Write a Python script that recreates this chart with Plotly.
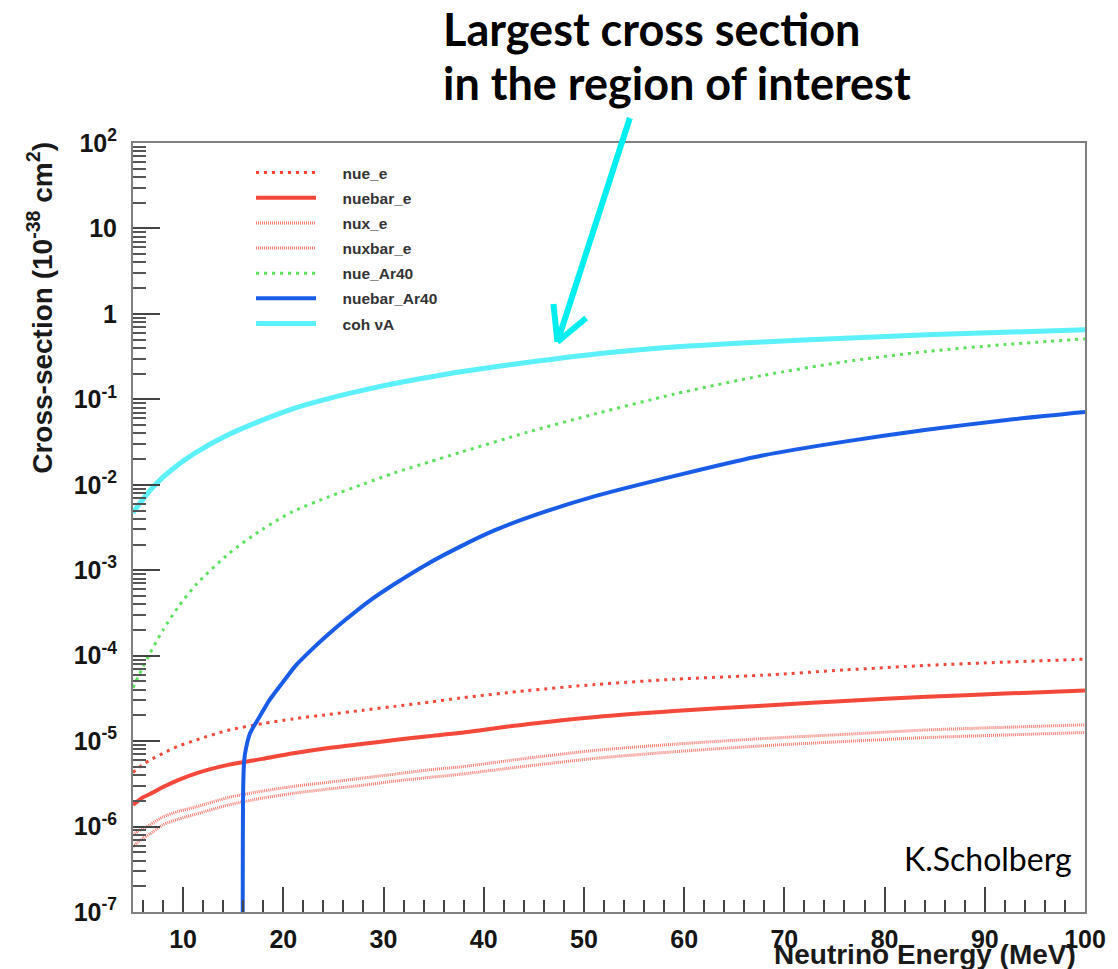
import plotly.graph_objects as go

# ---------------- data ----------------
energy = [5, 5.5, 6, 6.7, 8, 9.5, 11.3, 14.6, 17.9, 21, 24.5, 28, 31.1, 34.5, 37.7, 44.3,
          51.2, 59, 67.8, 76, 84.2, 92, 100]

nue_e = [4.3e-6, 4.8e-6, 5.3e-6, 6.0e-6, 7.2e-6, 8.7e-6, 1.03e-5, 1.35e-5, 1.6e-5, 1.82e-5,
         2.05e-5, 2.3e-5, 2.55e-5, 2.85e-5, 3.2e-5, 3.9e-5, 4.6e-5, 5.3e-5, 5.9e-5, 6.8e-5,
         7.7e-5, 8.4e-5, 9.1e-5]
nuebar_e = [1.8e-6, 2.0e-6, 2.2e-6, 2.4e-6, 2.9e-6, 3.5e-6, 4.2e-6, 5.3e-6, 6.2e-6, 7.2e-6,
            8.3e-6, 9.3e-6, 1.03e-5, 1.14e-5, 1.25e-5, 1.58e-5, 1.92e-5, 2.25e-5, 2.6e-5,
            2.95e-5, 3.3e-5, 3.6e-5, 3.9e-5]
nux_e = [8.0e-7, 8.8e-7, 9.5e-7, 1.05e-6, 1.3e-6, 1.5e-6, 1.7e-6, 2.2e-6, 2.6e-6, 2.95e-6,
         3.3e-6, 3.7e-6, 4.1e-6, 4.6e-6, 5.0e-6, 6.3e-6, 7.8e-6, 9.2e-6, 1.07e-5, 1.2e-5,
         1.35e-5, 1.45e-5, 1.55e-5]
nuxbar_e = [5.8e-7, 6.6e-7, 7.3e-7, 8.2e-7, 1.05e-6, 1.22e-6, 1.4e-6, 1.8e-6, 2.15e-6, 2.45e-6,
            2.75e-6, 3.05e-6, 3.4e-6, 3.75e-6, 4.1e-6, 5.1e-6, 6.3e-6, 7.5e-6, 8.8e-6, 9.9e-6,
            1.1e-5, 1.18e-5, 1.26e-5]
nue_Ar40 = [4.2e-5, 5.6e-5, 7.4e-5, 1.07e-4, 2.0e-4, 3.7e-4, 6.8e-4, 1.58e-3, 3.0e-3, 4.9e-3,
            7.2e-3, 1.02e-2, 0.0138, 0.0184, 0.024, 0.041, 0.068, 0.115, 0.19, 0.275, 0.363,
            0.437, 0.51]
coh_nuA = [4.7e-3, 5.7e-3, 6.8e-3, 8.6e-3, 0.0123, 0.0172, 0.024, 0.039, 0.057, 0.078, 0.102,
           0.128, 0.153, 0.181, 0.21, 0.27, 0.34, 0.41, 0.47, 0.52, 0.57, 0.61, 0.65]

energy_bar_ar = [15.95, 16.0, 16.1, 16.3, 16.7, 17.6, 18.6, 19.9, 21.3, 22.8, 24.5, 26.2,
                 28.5, 31.1, 34.3, 37.7, 41, 44.3, 51.2, 60, 67.8, 76, 84.2, 92, 100]
nuebar_Ar40 = [1e-7, 3e-6, 6e-6, 8.5e-6, 1.25e-5, 1.9e-5, 3e-5, 4.8e-5, 7.8e-5, 1.17e-4,
               1.78e-4, 2.63e-4, 4.3e-4, 6.9e-4, 1.17e-3, 1.9e-3, 2.9e-3, 4.1e-3, 7.4e-3,
               0.0135, 0.022, 0.032, 0.044, 0.057, 0.071]

y_tick_vals = [1e-7, 1e-6, 1e-5, 1e-4, 1e-3, 1e-2, 1e-1, 1, 10, 100]
y_tick_text = ["10<sup>-7</sup>", "10<sup>-6</sup>", "10<sup>-5</sup>", "10<sup>-4</sup>",
               "10<sup>-3</sup>", "10<sup>-2</sup>", "10<sup>-1</sup>", "1", "10", "10<sup>2</sup>"]
x_tick_vals = [10, 20, 30, 40, 50, 60, 70, 80, 90, 100]
x_tick_text = ["10", "20", "30", "40", "50", "60", "70", "80", "90", "100"]

# ---------------- figure ----------------
W, H = 1118, 969
L, R, T, B = 133, 25, 143, 57
pw, ph = W - L - R, H - T - B


def px(xp):
    return (xp - L) / pw


def py(yp):
    return (H - B - yp) / ph


RED = "rgb(244,72,58)"
RED_LIGHT = "rgb(246,120,110)"
GREEN = "rgb(92,226,92)"
BLUE = "rgb(24,92,232)"
CYAN = "rgb(92,240,250)"

fig = go.Figure()
series = [
    ("nue_e", energy, nue_e, RED, 3, "3px,5px"),
    ("nuebar_e", energy, nuebar_e, RED, 4, "solid"),
    ("nux_e", energy, nux_e, RED_LIGHT, 3, "1px,1px"),
    ("nuxbar_e", energy, nuxbar_e, RED_LIGHT, 3, "1px,1px"),
    ("nue_Ar40", energy, nue_Ar40, GREEN, 3, "3px,5px"),
    ("nuebar_Ar40", energy_bar_ar, nuebar_Ar40, BLUE, 4, "solid"),
    ("coh \u03bdA", energy, coh_nuA, CYAN, 5, "solid"),
]
nb = "\u00a0" * 5
for i, (name, xs, ys, col, w, dash) in enumerate(series):
    fig.add_trace(go.Scatter(
        x=xs, y=ys, mode="lines", name=f"<b>{nb}{name}</b>", legendgroup=f"g{i}",
        line=dict(color=col, width=w, dash=dash, shape="spline", smoothing=0.7),
    ))

FAM = "Liberation Sans, Arial, sans-serif"
axis_font = dict(family=FAM, size=25, color="#151515")

fig.update_layout(
    width=W, height=H,
    margin=dict(l=L, r=R, t=T, b=B),
    paper_bgcolor="white", plot_bgcolor="white",
    showlegend=True,
    legend=dict(
        x=px(252), y=py(156), xanchor="left", yanchor="top",
        bgcolor="rgba(255,255,255,0)", borderwidth=0,
        font=dict(family=FAM, size=15.5, color="#333"),
        traceorder="grouped", tracegroupgap=2, itemwidth=60,
    ),
    xaxis=dict(
        type="linear", range=[5, 100],
        tickvals=x_tick_vals, ticktext=[f"<b>{t}</b>" for t in x_tick_text],
        ticks="inside", ticklen=25, tickwidth=1.5, tickcolor="#444",
        showline=True, linecolor="#808080", linewidth=2, mirror=True,
        showgrid=False, zeroline=False,
        tickfont=axis_font, ticklabelstandoff=4,
        minor=dict(dtick=2, tick0=0, ticks="inside", ticklen=12, tickwidth=1.5, tickcolor="#444",
                   showgrid=False),
    ),
    yaxis=dict(
        type="log", range=[-7, 2],
        tickvals=y_tick_vals, ticktext=[f"<b>{t}</b>" for t in y_tick_text],
        ticks="inside", ticklen=27, tickwidth=1.5, tickcolor="#444",
        showline=True, linecolor="#808080", linewidth=2, mirror=True,
        showgrid=False, zeroline=False,
        tickfont=axis_font, ticklabelstandoff=9,
        minor=dict(dtick="D1", ticks="inside", ticklen=13, tickwidth=1.5, tickcolor="#555",
                   showgrid=False),
    ),
)

annotations = [
    dict(text="<b>Cross-section (10<sup>-38</sup> cm<sup>2</sup>)</b>", textangle=-90,
         xref="paper", yref="paper", x=px(39), y=py(308), xanchor="center", yanchor="middle",
         showarrow=False, font=dict(family=FAM, size=28, color="#1a1a1a")),
    dict(text="<b>Neutrino Energy (MeV)</b>",
         xref="paper", yref="paper", x=px(1086), y=py(954), xanchor="right", yanchor="middle",
         showarrow=False, font=dict(family=FAM, size=28, color="#1a1a1a")),
    dict(text="<b>Largest cross section</b>",
         xref="paper", yref="paper", x=px(444), y=py(0), xanchor="left", yanchor="top",
         showarrow=False, font=dict(family="Lato, sans-serif", size=45, color="black")),
    dict(text="<b>in the region of interest</b>",
         xref="paper", yref="paper", x=px(444), y=py(83), xanchor="left", yanchor="middle",
         showarrow=False, font=dict(family="Lato, sans-serif", size=45, color="black")),
    dict(text="K.Scholberg",
         xref="paper", yref="paper", x=px(1082), y=py(858), xanchor="right", yanchor="middle",
         showarrow=False, font=dict(family="Lato, sans-serif", size=32, color="black")),
]
fig.update_layout(annotations=annotations)

# cyan pointer arrow (decoration)
ARROW = "rgb(0,238,240)"
tip = (561, 342)
for a, b in [((634, 118), tip), ((557, 304), tip), ((590, 318), tip)]:
    fig.add_shape(type="line", xref="paper", yref="paper",
                  x0=px(a[0]), y0=py(a[1]), x1=px(b[0]), y1=py(b[1]),
                  line=dict(color=ARROW, width=6))

fig.write_html("out.html")
